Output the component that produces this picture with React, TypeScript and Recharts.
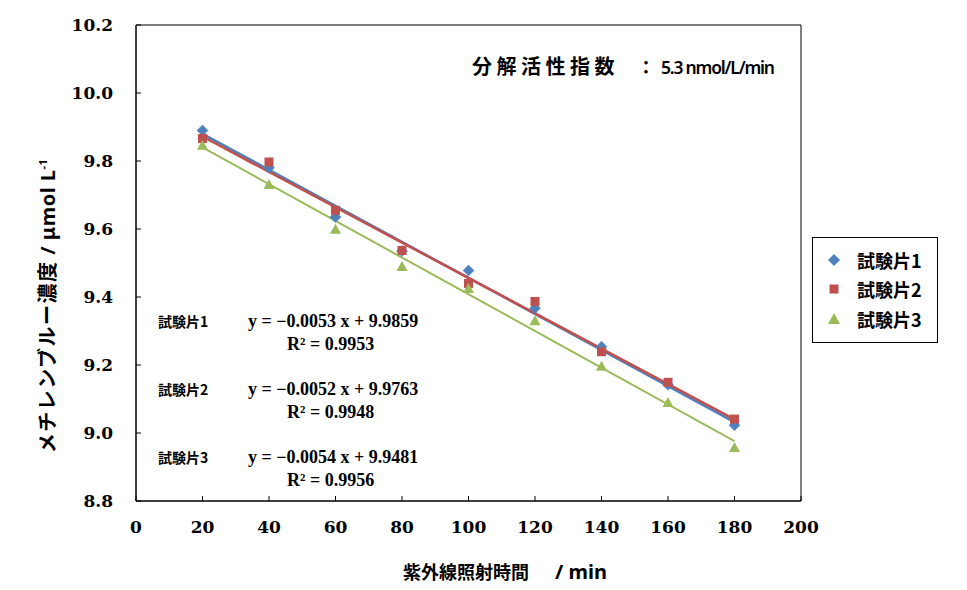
import React from 'react';
import {
  ComposedChart,
  Scatter,
  Line,
  XAxis,
  YAxis,
  ReferenceArea,
} from 'recharts';

const xValues = [20, 40, 60, 80, 100, 120, 140, 160, 180];
const sample1 = [9.89, 9.78, 9.635, 9.535, 9.478, 9.367, 9.254, 9.142, 9.023];
const sample2 = [9.866, 9.797, 9.655, 9.537, 9.44, 9.387, 9.239, 9.149, 9.041];
const sample3 = [9.846, 9.731, 9.599, 9.49, 9.425, 9.33, 9.196, 9.09, 8.957];

const trendX = [20, 180];
const trend1 = [9.88, 9.032];
const trend2 = [9.872, 9.04];
const trend3 = [9.84, 8.976];

const seriesNames = ['試験片1', '試験片2', '試験片3'];
const equations = ['y = −0.0053 x + 9.9859', 'y = −0.0052 x + 9.9763', 'y = −0.0054 x + 9.9481'];
const r2Labels = ['R² = 0.9953', 'R² = 0.9948', 'R² = 0.9956'];

const xTicks = [0, 20, 40, 60, 80, 100, 120, 140, 160, 180, 200];
const yTicks = [8.8, 9.0, 9.2, 9.4, 9.6, 9.8, 10.0, 10.2];

const BLUE = '#4F81BD';
const RED = '#C0504D';
const GREEN = '#9BBB59';

const toPoints = (xs: number[], ys: number[]) => xs.map((x, i) => ({ x, y: ys[i] }));

const data1 = toPoints(xValues, sample1);
const data2 = toPoints(xValues, sample2);
const data3 = toPoints(xValues, sample3);
const tData1 = toPoints(trendX, trend1);
const tData2 = toPoints(trendX, trend2);
const tData3 = toPoints(trendX, trend3);

const Diamond = (props: any) => {
  const { cx, cy } = props;
  const r = 5.5;
  return <polygon points={`${cx},${cy - r} ${cx + r},${cy} ${cx},${cy + r} ${cx - r},${cy}`} fill={BLUE} stroke={BLUE} strokeWidth={0.5} />;
};
const Square = (props: any) => {
  const { cx, cy } = props;
  const r = 4.5;
  return <rect x={cx - r} y={cy - r} width={2 * r} height={2 * r} fill={RED} />;
};
const Triangle = (props: any) => {
  const { cx, cy } = props;
  return <polygon points={`${cx},${cy - 5.5} ${cx + 5.5},${cy + 4.5} ${cx - 5.5},${cy + 4.5}`} fill={GREEN} />;
};

const serifTick = { fontFamily: '"DejaVu Serif", serif', fontWeight: 700, fontSize: 17, fill: '#000' };
const cjk = '"Noto Sans CJK JP", "Noto Sans", sans-serif';
const eqFont = '"Liberation Serif", serif';

const abs = (left: number, cy: number): React.CSSProperties => ({
  position: 'absolute',
  left,
  top: cy,
  transform: 'translateY(-50%)',
  lineHeight: 1,
  whiteSpace: 'nowrap',
  color: '#000',
});

export default function App() {
  const eqRows = [321, 389, 457];
  const r2Rows = [344, 412, 480];
  const legendRows = [22, 51, 81];
  return (
    <div style={{ position: 'absolute', left: 0, top: 0, width: 967, height: 590, background: '#fff' }}>
      <ComposedChart
        width={967}
        height={590}
        margin={{ top: 25, right: 166, bottom: 59, left: 56 }}
      >
        <XAxis
          dataKey="x"
          type="number"
          domain={[0, 200]}
          ticks={xTicks}
          allowDataOverflow
          height={30}
          tickSize={-5}
          tickMargin={25}
          axisLine={{ stroke: '#000', strokeWidth: 1 }}
          tickLine={{ stroke: '#000' }}
          tick={serifTick}
        />
        <YAxis
          dataKey="y"
          type="number"
          domain={[8.8, 10.2]}
          ticks={yTicks}
          allowDataOverflow
          width={80}
          tickSize={-5}
          tickMargin={28}
          tickFormatter={(v: number) => v.toFixed(1)}
          axisLine={{ stroke: '#000', strokeWidth: 1 }}
          tickLine={{ stroke: '#000' }}
          tick={serifTick}
        />
        <ReferenceArea x1={0} x2={200} y1={8.8} y2={10.2} fill="none" stroke="#000" strokeWidth={1} />
        <Scatter name={seriesNames[0]} data={data1} dataKey="y" shape={Diamond} isAnimationActive={false} />
        <Scatter name={seriesNames[1]} data={data2} dataKey="y" shape={Square} isAnimationActive={false} />
        <Scatter name={seriesNames[2]} data={data3} dataKey="y" shape={Triangle} isAnimationActive={false} />
        <Line data={tData1} dataKey="y" type="linear" stroke={BLUE} strokeWidth={2.5} dot={false} activeDot={false} isAnimationActive={false} legendType="none" />
        <Line data={tData2} dataKey="y" type="linear" stroke={RED} strokeWidth={2.5} dot={false} activeDot={false} isAnimationActive={false} legendType="none" />
        <Line data={tData3} dataKey="y" type="linear" stroke={GREEN} strokeWidth={2} dot={false} activeDot={false} isAnimationActive={false} legendType="none" />
      </ComposedChart>

      {/* annotation */}
      <div style={abs(472, 66)}>
        <span style={{ fontFamily: cjk, fontWeight: 700, fontSize: 20, letterSpacing: 4.5 }}>分解活性指数</span>
        <span style={{ fontFamily: cjk, fontWeight: 700, fontSize: 18, marginLeft: 18 }}>：</span>
        <span style={{ fontFamily: '"Noto Sans", sans-serif', fontWeight: 600, fontSize: 17.5, letterSpacing: -1.2, marginLeft: 6 }}>5.3 nmol/L/min</span>
      </div>

      {/* equations */}
      {seriesNames.map((n, i) => (
        <React.Fragment key={n}>
          <div style={{ ...abs(158, eqRows[i]), fontFamily: cjk, fontWeight: 700, fontSize: 14 }}>{n}</div>
          <div style={{ ...abs(248, eqRows[i]), fontFamily: eqFont, fontWeight: 700, fontSize: 18 }}>{equations[i]}</div>
          <div style={{ ...abs(287, r2Rows[i]), fontFamily: eqFont, fontWeight: 700, fontSize: 18 }}>{r2Labels[i]}</div>
        </React.Fragment>
      ))}

      {/* x axis title */}
      <div style={abs(403, 572)}>
        <span style={{ fontFamily: cjk, fontWeight: 700, fontSize: 18 }}>紫外線照射時間</span>
        <span style={{ fontFamily: '"Noto Sans", sans-serif', fontWeight: 700, fontSize: 20, marginLeft: 26 }}>/ min</span>
      </div>

      {/* y axis title */}
      <div
        style={{
          position: 'absolute',
          left: 47,
          top: 306,
          transform: 'translate(-50%, -50%) rotate(-90deg)',
          whiteSpace: 'nowrap',
          lineHeight: 1,
          color: '#000',
        }}
      >
        <span style={{ fontFamily: cjk, fontWeight: 700, fontSize: 20, letterSpacing: 1.5 }}>メチレンブルー濃度</span>
        <span style={{ fontFamily: '"Noto Sans", sans-serif', fontWeight: 700, fontSize: 20, letterSpacing: 0.5 }}>
          {' '}/ μmol L<sup style={{ fontSize: 11, verticalAlign: '0.7em' }}>-1</sup>
        </span>
      </div>

      {/* legend */}
      <div
        style={{
          position: 'absolute',
          left: 812,
          top: 237,
          width: 126,
          height: 106,
          border: '1px solid #000',
          boxSizing: 'border-box',
          background: '#fff',
        }}
      >
        <svg width={40} height={105} style={{ position: 'absolute', left: 0, top: 0 }}>
          <polygon points={`21,${legendRows[0] - 6} 27,${legendRows[0]} 21,${legendRows[0] + 6} 15,${legendRows[0]}`} fill={BLUE} />
          <rect x={16.5} y={legendRows[1] - 4.5} width={9} height={9} fill={RED} />
          <polygon points={`21,${legendRows[2] - 6} 27,${legendRows[2] + 5} 15,${legendRows[2] + 5}`} fill={GREEN} />
        </svg>
        {seriesNames.map((n, i) => (
          <div key={n} style={{ ...abs(44, legendRows[i]), fontFamily: cjk, fontWeight: 700, fontSize: 18 }}>{n}</div>
        ))}
      </div>
    </div>
  );
}
